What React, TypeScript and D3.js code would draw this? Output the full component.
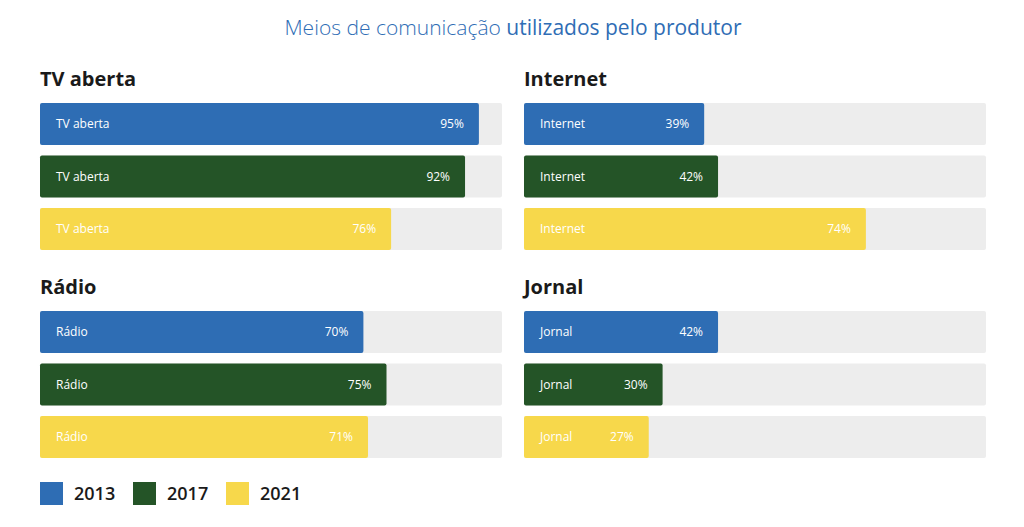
import React from "react";
import * as d3 from "d3";

const categories = ["TV aberta", "Internet", "Rádio", "Jornal"];
const years = ["2013", "2017", "2021"];
const values2013 = [95, 39, 70, 42];
const values2017 = [92, 42, 75, 30];
const values2021 = [76, 74, 71, 27];
const colors = ["#2e6db4", "#245427", "#f7d84b"];

const W = 1024;
const H = 527;
const FONT = "'Open Sans', sans-serif";

export default function App() {
  const series = [values2013, values2017, values2021];
  const panelX = [40, 524, 40, 524];
  const panelY = [103, 103, 311, 311];
  const trackW = 462;
  const x = d3.scaleLinear().domain([0, 100]).range([0, trackW]);
  const y = d3.scaleBand().domain(years).range([0, 147]).paddingInner(0.2).paddingOuter(0);

  return (
    <svg width={W} height={H} style={{ position: "absolute", left: 0, top: 0, fontFamily: FONT }}>
      <text x={513} y={35} textAnchor="middle" fontSize={21} fill="#2f6db5">
        <tspan fontWeight={300}>Meios de comunicação </tspan>
        <tspan fontWeight={400}>utilizados pelo produtor</tspan>
      </text>
      {categories.map((cat, ci) => (
        <g key={cat} transform={`translate(${panelX[ci]},${panelY[ci]})`}>
          <text x={0} y={-17} fontSize={20} fontWeight={700} fill="#1a1a1a">{cat}</text>
          {years.map((yr, yi) => {
            const v = series[yi][ci];
            const yy = y(yr)!;
            const bh = y.bandwidth();
            return (
              <g key={yr}>
                <rect x={0} y={yy} width={trackW} height={bh} rx={2} fill="#ededed" />
                <rect x={0} y={yy} width={x(v)} height={bh} rx={2} fill={colors[yi]} />
                <text x={16} y={yy + bh / 2 + 4} fontSize={12} fill="#ffffff">{cat}</text>
                <text x={x(v) - 15} y={yy + bh / 2 + 4} fontSize={12} fill="#ffffff" textAnchor="end">{v}%</text>
              </g>
            );
          })}
        </g>
      ))}
      {years.map((yr, i) => {
        const lx = [40, 133, 226][i];
        return (
          <g key={yr}>
            <rect x={lx} y={482} width={23} height={23} fill={colors[i]} />
            <text x={lx + 34} y={500} fontSize={18} fontWeight={600} fill="#1a1a1a">{yr}</text>
          </g>
        );
      })}
    </svg>
  );
}
